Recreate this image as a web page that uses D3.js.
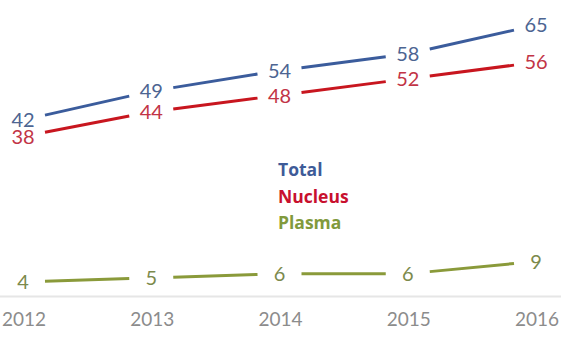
<!DOCTYPE html>
<html>
<head>
<meta charset="utf-8">
<script src="https://cdn.jsdelivr.net/npm/d3@7"></script>
<style>
  html, body { margin: 0; padding: 0; background: #ffffff; }
  svg { display: block; }
</style>
</head>
<body>
<svg id="chart" width="561" height="337"></svg>
<script>
// Yearly counts per compartment
const years = ["2012", "2013", "2014", "2015", "2016"];
const totalValues = [42, 49, 54, 58, 65];
const nucleusValues = [38, 44, 48, 52, 56];
const plasmaValues = [4, 5, 6, 6, 9];
const seriesNames = ["Total", "Nucleus", "Plasma"];

const lineColors = { Total: "#3b5c9c", Nucleus: "#c8161f", Plasma: "#8a9a3a" };
const labelColors = { Total: "#4d6592", Nucleus: "#c23446", Plasma: "#7c8a4c" };
const legendColors = { Total: "#3e5b98", Nucleus: "#c8102e", Plasma: "#819a3c" };

const series = [
  { name: "Total", values: totalValues },
  { name: "Nucleus", values: nucleusValues },
  { name: "Plasma", values: plasmaValues }
];

const svg = d3.select("#chart");
const W = 561, H = 337;

const x = d3.scalePoint().domain(years).range([23, 536]);
// Broken value axis: the small Plasma counts sit near the baseline,
// the larger series keep the same unit size above the break.
const y = d3.scaleLinear()
  .domain([0, 12, 30, 70])
  .range([298.5, 249, 169.6, 4.5]);

// baseline
svg.append("line")
  .attr("x1", 0).attr("x2", W)
  .attr("y1", y(0) - 2).attr("y2", y(0) - 2)
  .attr("stroke", "#e6e6e6")
  .attr("stroke-width", 2);

// year labels
svg.append("g")
  .selectAll("text")
  .data(years)
  .join("text")
  .attr("x", d => x(d) + 1)
  .attr("y", 326)
  .attr("text-anchor", "middle")
  .attr("font-family", "Lato, 'Open Sans', sans-serif")
  .attr("font-size", 19)
  .attr("fill", "#8c8c8c")
  .text(d => d);

// line segments between points, leaving room for the value labels
const gap = 22;
series.forEach(s => {
  const pts = s.values.map((v, i) => [x(years[i]), y(v)]);
  const segs = d3.pairs(pts).map(([a, b]) => {
    const t = gap / (b[0] - a[0]);
    return [
      [a[0] + (b[0] - a[0]) * t, a[1] + (b[1] - a[1]) * t],
      [b[0] - (b[0] - a[0]) * t, b[1] - (b[1] - a[1]) * t]
    ];
  });
  svg.append("g")
    .selectAll("line")
    .data(segs)
    .join("line")
    .attr("x1", d => d[0][0]).attr("y1", d => d[0][1])
    .attr("x2", d => d[1][0]).attr("y2", d => d[1][1])
    .attr("stroke", lineColors[s.name])
    .attr("stroke-width", 3)
    .attr("stroke-linecap", "butt");
});

// value labels centred on each point
series.forEach(s => {
  svg.append("g")
    .selectAll("text")
    .data(s.values)
    .join("text")
    .attr("x", (d, i) => x(years[i]))
    .attr("y", d => y(d))
    .attr("dy", "0.36em")
    .attr("text-anchor", "middle")
    .attr("font-family", "Lato, 'Open Sans', sans-serif")
    .attr("font-size", 20)
    .attr("fill", labelColors[s.name])
    .text(d => d);
});

// legend
svg.append("g")
  .selectAll("text")
  .data(seriesNames)
  .join("text")
  .attr("x", 278)
  .attr("y", (d, i) => 176 + i * 26.5)
  .attr("font-family", "'Open Sans', sans-serif")
  .attr("font-weight", "bold")
  .attr("font-size", 17.5)
  .attr("fill", d => legendColors[d])
  .text(d => d);
</script>
</body>
</html>
